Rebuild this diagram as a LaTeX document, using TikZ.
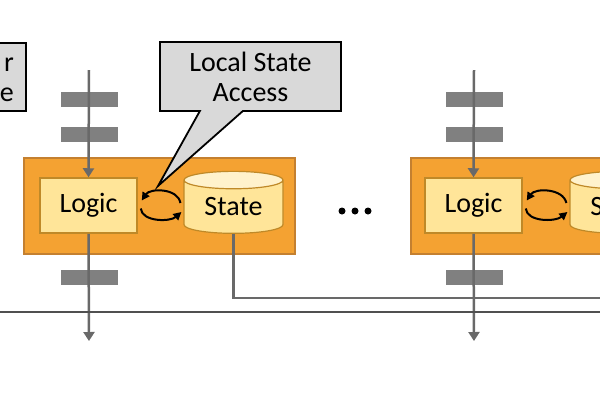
\documentclass[tikz,border=0pt]{standalone}
\usepackage{fontspec}
\setmainfont{Carlito}
\usetikzlibrary{arrows.meta,shapes.geometric,shapes.callouts}
\definecolor{stageorange}{RGB}{244,162,50}
\definecolor{stageedge}{RGB}{196,128,48}
\definecolor{logicfill}{RGB}{255,229,153}
\definecolor{logicedge}{RGB}{191,137,40}
\definecolor{statetop}{RGB}{255,242,204}
\definecolor{notegray}{RGB}{217,217,217}
\definecolor{flowgray}{RGB}{105,105,105}
\definecolor{bargray}{RGB}{128,128,128}
\definecolor{busgray}{RGB}{80,80,80}

\begin{document}
\begin{tikzpicture}[x=1pt,y=-1pt,
  every node/.style={font=\fontsize{28}{30}\selectfont, inner sep=0pt},
  stage/.style={rectangle, fill=stageorange, draw=stageedge, line width=1.5pt},
  logic/.style={rectangle, fill=logicfill, draw=logicedge, line width=1.5pt, minimum width=97pt, minimum height=55pt},
  statedb/.style={cylinder, shape border rotate=90, aspect=0.3, draw=logicedge, line width=1.2pt,
    cylinder uses custom fill, cylinder body fill=logicfill, cylinder end fill=statetop,
    minimum width=99pt, minimum height=62pt},
  bar/.style={rectangle, fill=bargray, minimum width=57pt, minimum height=15pt},
  flow/.style={draw=flowgray, line width=2.5pt, -{Triangle[width=11pt,length=9pt]}},
  link/.style={draw=flowgray, line width=2.5pt},
  swap/.style={line width=2pt, -{Triangle[width=8pt,length=8pt]}},
  note/.style={fill=notegray, draw=black, line width=1.8pt, align=center}]
\useasboundingbox (0,0) rectangle (600,400);

\node[note, rectangle, minimum width=120pt, minimum height=68pt, anchor=east] (other) at (27,77) {};
\node[align=right, anchor=east] (othertext) at (14,80) {r\\e};

\node[stage, minimum width=271pt, minimum height=96pt] (stage1) at (159.5,206) {};
\node[logic] (logic1) at (88.5,205.5) {Logic};
\node[statedb] (state1) at (233.5,207) {State};
\draw[swap] ([shift={(-3,-4)}]state1.west) .. controls (178,188) and (150,188) .. ([shift={(4,-5)}]logic1.east);
\draw[swap] ([shift={(3,3)}]logic1.east) .. controls (142,222) and (170,222) .. ([shift={(-2,5)}]state1.west);

\node[note, rectangle callout, minimum width=181pt, minimum height=69pt,
  callout absolute pointer={(158,186)}, callout pointer width=43pt] (access) at (250.5,76.5) {Local State\\Access};

\node[stage, minimum width=290pt, minimum height=96pt, anchor=west] (stage2) at (410,206) {};
\node[logic] (logic2) at (473.5,205.5) {Logic};
\node[statedb] (state2) at (619.5,207) {State};
\draw[swap] ([shift={(-3,-4)}]state2.west) .. controls (563,188) and (535,188) .. ([shift={(4,-5)}]logic2.east);
\draw[swap] ([shift={(3,3)}]logic2.east) .. controls (527,222) and (555,222) .. ([shift={(-2,5)}]state2.west);

\foreach \x in {342,355,368} \fill (\x,211) circle (3.5);

\coordinate (in1) at (89,70);
\coordinate (out1) at (89,341);
\node[bar] (bar1a) at (89,99.5) {};
\node[bar] (bar1b) at (89,134.5) {};
\node[bar] (bar1c) at (89,277) {};
\draw[flow] (in1) -- (logic1.north);
\draw[flow] (logic1.south) -- (out1);

\coordinate (in2) at (474,70);
\coordinate (out2) at (474,341);
\node[bar] (bar2a) at (474,99.5) {};
\node[bar] (bar2b) at (474,134.5) {};
\node[bar] (bar2c) at (474,277) {};
\draw[flow] (in2) -- (logic2.north);
\draw[flow] (logic2.south) -- (out2);

\coordinate (sync) at (600,298);
\draw[link] (state1.south) |- (sync);
\coordinate (busL) at (0,312);
\coordinate (busR) at (600,312);
\draw[draw=busgray, line width=2pt] (busL) -- (busR);
\end{tikzpicture}
\end{document}
